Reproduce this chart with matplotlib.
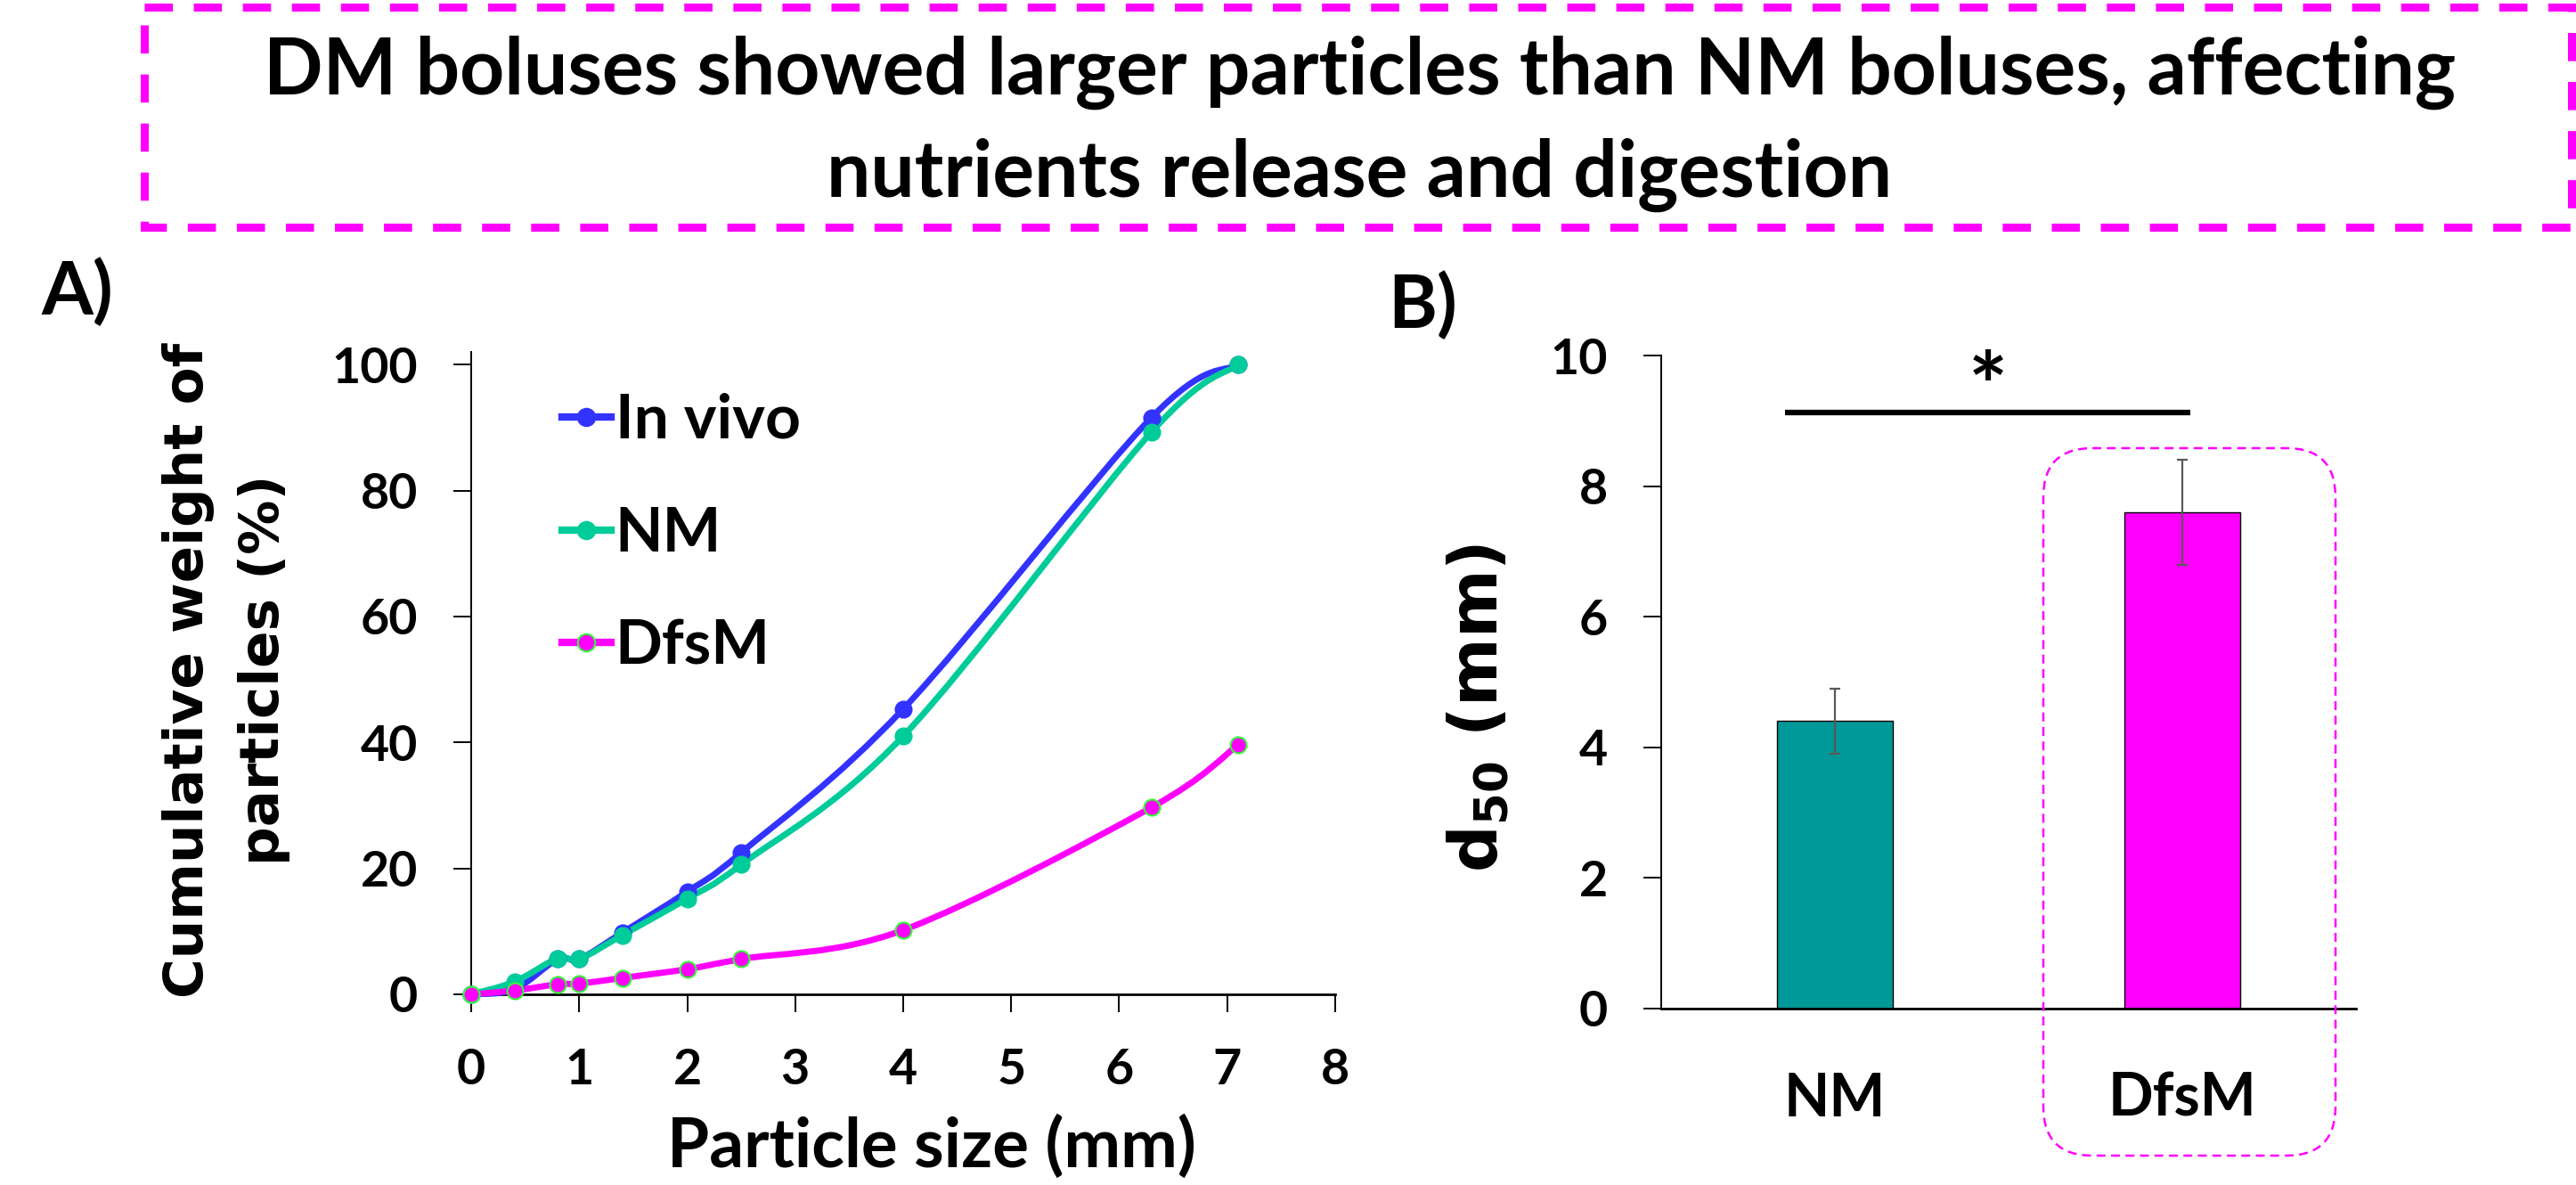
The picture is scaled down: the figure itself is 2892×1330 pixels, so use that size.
import numpy as np
import matplotlib
matplotlib.use("Agg")
import matplotlib.pyplot as plt
from matplotlib.path import Path
from matplotlib.patches import PathPatch, Rectangle, FancyBboxPatch
from matplotlib.lines import Line2D
from matplotlib.transforms import Affine2D

# A) cumulative weight of particles (%) per particle size (mm)
size_mm = [0, 0.4, 0.8, 1.0, 1.4, 2.0, 2.5, 4.0, 6.3, 7.1]
in_vivo = [0, 0.8, 5.6, 5.6, 9.8, 16.3, 22.5, 45.3, 91.6, 100]
nm = [0, 2.0, 5.7, 5.6, 9.4, 15.2, 20.6, 41.0, 89.3, 100]
dfsm = [0, 0.6, 1.6, 1.7, 2.6, 4.0, 5.6, 10.2, 29.7, 39.6]
series_names = ['In vivo', 'NM', 'DfsM']

# B) d50 (mm)
groups = ['NM', 'DfsM']
d50 = [4.4, 7.6]
d50_err = [0.5, 0.8]

line_colors = ['#3333FF', '#00CC99', '#FF00FF']
edge_colors = ['#3333FF', '#00CC99', '#33FF33']
bar_colors = ['#009999', '#FF00FF']
W, H = 2892, 1330


def smooth_path(x, y):
    # excel-like smoothed line: catmull-rom segments as cubic beziers
    pts = np.column_stack([x, y]).astype(float)
    n = len(pts)
    verts = [pts[0]]
    codes = [Path.MOVETO]
    for i in range(n - 1):
        p0 = pts[max(i - 1, 0)]
        p1 = pts[i]
        p2 = pts[i + 1]
        p3 = pts[min(i + 2, n - 1)]
        verts += [p1 + (p2 - p0) / 6, p2 - (p3 - p1) / 6, p2]
        codes += [Path.CURVE4] * 3
    return Path(verts, codes)


plt.rcParams['font.family'] = 'Lato'
plt.rcParams['font.weight'] = 'bold'
plt.rcParams['mathtext.fontset'] = 'dejavusans'

fig = plt.figure(figsize=(W / 100, H / 100), dpi=100)
px = Affine2D().scale(1 / W, -1 / H).translate(0, 1) + fig.transFigure

# title box
fig.patches.append(Rectangle((162, 8), 2725, 247, transform=px, fill=False,
                             edgecolor='#FF00FF', lw=6.5,
                             linestyle=(0, (3.5, 2.6))))
fig.text(1526, 106, 'DM boluses showed larger particles than NM boluses, affecting',
         transform=px, ha='center', va='baseline', fontsize=63)
fig.text(1526, 221, 'nutrients release and digestion',
         transform=px, ha='center', va='baseline', fontsize=63)

fig.text(46, 353, 'A)', transform=px, ha='left', va='baseline', fontsize=60)
fig.text(1558, 368, 'B)', transform=px, ha='left', va='baseline', fontsize=60)

# ---- panel A
axA = fig.add_axes([529 / W, 1 - 1116 / H, 970 / W, 721 / H])
for name, vals, lc, ec in zip(series_names, [in_vivo, nm, dfsm], line_colors, edge_colors):
    axA.add_patch(PathPatch(smooth_path(size_mm, vals), fill=False,
                            edgecolor=lc, lw=5, zorder=3, clip_on=False))
    axA.plot(size_mm, vals, 'o', ms=13, mfc=lc, mec=ec, mew=1.5,
             zorder=4, clip_on=False)

axA.set_xlim(0, 8)
axA.set_ylim(0, 102)
axA.set_xticks(range(0, 9))
axA.set_yticks(range(0, 101, 20))
for s in ['top', 'right']:
    axA.spines[s].set_visible(False)
axA.spines['left'].set_linewidth(1.4)
axA.spines['bottom'].set_linewidth(2)
axA.tick_params(axis='both', length=14.4, width=1.4, pad=29, labelsize=40)

handles = [Line2D([], [], color=lc, lw=6, marker='o', ms=14, mfc=lc, mec=ec, mew=1.5)
           for lc, ec in zip(line_colors, edge_colors)]
axA.legend(handles, series_names, loc='upper left',
           bbox_to_anchor=(631 / W, 1 - 441 / H), bbox_transform=fig.transFigure,
           frameon=False, fontsize=50, handlelength=0.79, handletextpad=0.07,
           labelspacing=0.92, borderpad=0, borderaxespad=0, numpoints=1)

fig.text(254, 752, 'Cumulative weight of\nparticles (%)', transform=px,
         rotation=90, ha='center', va='center', multialignment='center',
         family='DejaVu Sans', weight='bold', fontsize=44, linespacing=1.58)
fig.text(1046, 1310, 'Particle size (mm)', transform=px,
         ha='center', va='baseline', fontsize=55)

# ---- panel B
axB = fig.add_axes([1865 / W, 1 - 1132 / H, 780 / W, 733 / H])
xb = np.arange(len(groups))
axB.bar(xb, d50, width=0.334, color=bar_colors, edgecolor='black', lw=1, zorder=2)
axB.errorbar(xb, d50, yerr=d50_err, fmt='none', ecolor='#595959',
             elinewidth=1.6, capsize=4, capthick=1.6, zorder=3)
axB.set_xlim(-0.5, 1.5)
axB.set_ylim(0, 10)
axB.set_xticks(xb)
axB.set_xticklabels(groups)
axB.set_yticks(range(0, 11, 2))
for s in ['top', 'right']:
    axB.spines[s].set_visible(False)
axB.spines['left'].set_linewidth(1.4)
axB.spines['bottom'].set_linewidth(2)
axB.tick_params(axis='y', length=14.4, width=1.4, pad=29, labelsize=40)
axB.tick_params(axis='x', length=0, pad=51, labelsize=48)

# significance bar
axB.plot([-0.144, 1.023], [9.13, 9.13], color='black', lw=4.5, solid_capstyle='butt')
axB.text(0.44, 9.03, '*', ha='center', va='baseline', fontsize=75)

fig.text(1660, 794, r'$\mathbf{d}_{50}$ (mm)', transform=px, rotation=90,
         ha='center', va='center', family='DejaVu Sans', weight='bold', fontsize=53)

# highlight box round DfsM
fig.patches.append(FancyBboxPatch((2294, 503), 328, 794, transform=px,
                                  boxstyle='round,pad=0,rounding_size=55',
                                  fill=False, edgecolor='#FF00FF', lw=1.8,
                                  linestyle=(0, (4, 2.5))))

fig.savefig('out.png', dpi=100)
